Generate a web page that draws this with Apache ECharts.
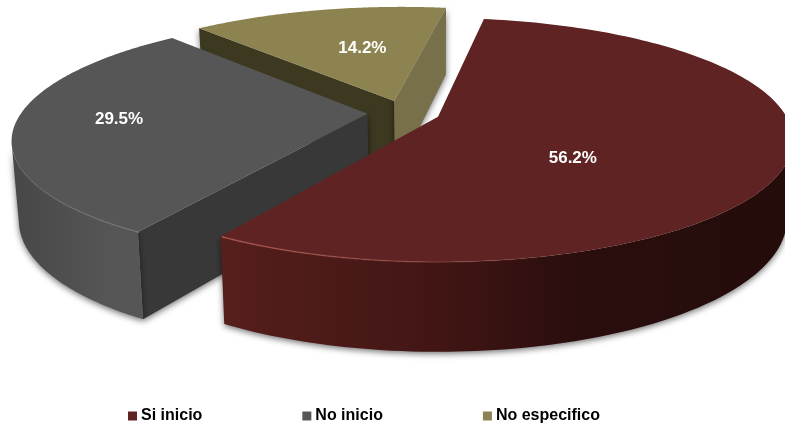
<!DOCTYPE html>
<html><head><meta charset="utf-8">
<style>html,body{margin:0;padding:0;background:#fff}#c{width:785px;height:427px}</style>
<script src="https://cdn.jsdelivr.net/npm/echarts@6/dist/echarts.min.js"></script>
</head><body><div id="c"></div>
<script>
const categories = ['Si inicio', 'No inicio', 'No especifico'];
const values = [56.2, 29.5, 14.2];
const labels = ['56.2%', '29.5%', '14.2%'];
const topColors = ['#5e2322', '#565656', '#8c8350'];
const legendColors = ['#5e2322', '#565656', '#8c8350'];
const wallStops = [
  [[0,'#551f1c'],[0.36,'#431615'],[0.62,'#2a0e0d'],[1,'#240c0b']],
  [[0,'#474747'],[0.75,'#565656'],[1,'#565656']],
  [[0,'#77704a'],[1,'#77704a']]
];
const firstCutColors = ['#3a1413', '#383838', '#3d3820'];
const lastCutColors = ['#3a1413', '#383838', '#77704a'];
const labelRadius = [0.49, 0.71, 0.53];
const labelTurn = [22, 1.5, 4];

const total = values.reduce((a, b) => a + b, 0);
const START = -81, EXPLODE = 0.105, K = -0.19;
const CX = 438, CY = 140, RX = 355, RY = 122;
const S = Math.sqrt(1 - K * K);
const rad = d => d * Math.PI / 180;

function sliceAngles(i) {
  let a = START;
  for (let j = 0; j < i; j++) a += values[j] / total * 360;
  return [a, a + values[i] / total * 360];
}
function offset(i) {
  const [a0, a1] = sliceAngles(i), [r0, r1] = sliceAngles(0);
  const m = rad((a0 + a1) / 2), r = rad((r0 + r1) / 2);
  return [EXPLODE * (Math.cos(m) - Math.cos(r)), EXPLODE * (Math.sin(m) - Math.sin(r))];
}
function project(x, y) {
  const den = 1 + K * y;
  return [CX + RX * x * S / den, CY + RY * (y + K) / den, den];
}
function drop(p) {
  const h = 77 / Math.pow(p[2], 0.73);
  return [p[0] + (CX - p[0]) * 0.017, p[1] + h];
}
function rimPoint(i, deg) {
  const o = offset(i);
  return project(o[0] + Math.cos(rad(deg)), o[1] + Math.sin(rad(deg)));
}
function arc(i, from, to) {
  const pts = [];
  for (let n = 0; n <= 160; n++) pts.push(rimPoint(i, from + (to - from) * n / 160));
  return pts;
}
// a cut wall shows only when the drop leads away from the slice's top face
function cutVisible(a, b, c) {
  const ex = b[0] - a[0], ey = b[1] - a[1];
  const side = ex * (c[1] - a[1]) - ey * (c[0] - a[0]);
  return side * ex < 0;
}
const xy = p => [p[0], p[1]];
const lin = stops => ({type:'linear', x:0, y:0, x2:1, y2:0,
  colorStops: stops.map(s => ({offset:s[0], color:s[1]}))});
const shade = {shadowBlur:6, shadowColor:'rgba(0,0,0,0.55)', shadowOffsetY:2};
const rimSpan = [[121.3, 72, '#a8574f', 'rgba(168,87,79,0)'], [121.3, 172, '#747474', 'rgba(116,116,116,0)'], null];

function renderSlice(i) {
  return function () {
    const [a0, a1] = sliceAngles(i);
    const o = offset(i);
    const apex = project(o[0], o[1]);
    const rim = arc(i, a0, a1);
    const first = rim[0], last = rim[rim.length - 1], mid = rim[80];
    const children = [];
    if (cutVisible(apex, first, mid)) {
      children.push({type:'polygon', shape:{points:[xy(apex), xy(first), drop(first), drop(apex)]},
        style:Object.assign({fill:firstCutColors[i]}, shade)});
    }
    if (cutVisible(apex, last, mid)) {
      children.push({type:'polygon', shape:{points:[xy(apex), xy(last), drop(last), drop(apex)]},
        style:Object.assign({fill:lastCutColors[i]}, shade)});
    }
    const front = rim.filter((p, n) => n < rim.length - 1 ? rim[n + 1][0] < p[0] : rim[n - 1][0] > p[0]);
    if (front.length > 1) {
      children.push({type:'polygon', shape:{points: front.map(xy).concat(front.map(drop).reverse())},
        style:Object.assign({fill: lin(wallStops[i])}, shade)});
    }
    children.push({type:'polygon', shape:{points:[xy(apex)].concat(rim.map(xy))},
      style:{fill:topColors[i]}});
    const span = rimSpan[i];
    if (span) {
      const line = arc(i, span[0], span[1]).map(xy);
      const fwd = line[0][0] < line[line.length - 1][0];
      children.push({type:'polyline', shape:{points:line},
        style:{fill:'none', lineWidth:1.4,
          stroke: lin(fwd ? [[0,span[2]],[1,span[3]]] : [[0,span[3]],[1,span[2]]])}});
    }
    const la = rad((a0 + a1) / 2 + labelTurn[i]);
    const lp = project(o[0] + labelRadius[i] * Math.cos(la), o[1] + labelRadius[i] * Math.sin(la));
    children.push({type:'text', z2:10, style:{x:lp[0], y:lp[1], text:labels[i], fill:'#fff',
      font:'bold 17px "Liberation Sans", Arial, sans-serif', align:'center', verticalAlign:'middle'}});
    return {type:'group', children};
  };
}

const chart = echarts.init(document.getElementById('c'), null, {renderer:'canvas'});
chart.setOption({
  animation:false,
  backgroundColor:'#fff',
  legend:{
    data:categories, left:123, top:403, icon:'rect', itemWidth:9, itemHeight:9, itemGap:100,
    textStyle:{color:'#000', fontWeight:'bold', fontSize:16, fontFamily:'"Liberation Sans", Arial, sans-serif', padding:[0,0,0,-1]}
  },
  series: categories.map((name, i) => ({
    type:'custom', name, coordinateSystem:'none', silent:true, z:3 - i, clip:false,
    itemStyle:{color:legendColors[i]},
    data:[[values[i]]],
    renderItem:renderSlice(i)
  }))
});
</script></body></html>
